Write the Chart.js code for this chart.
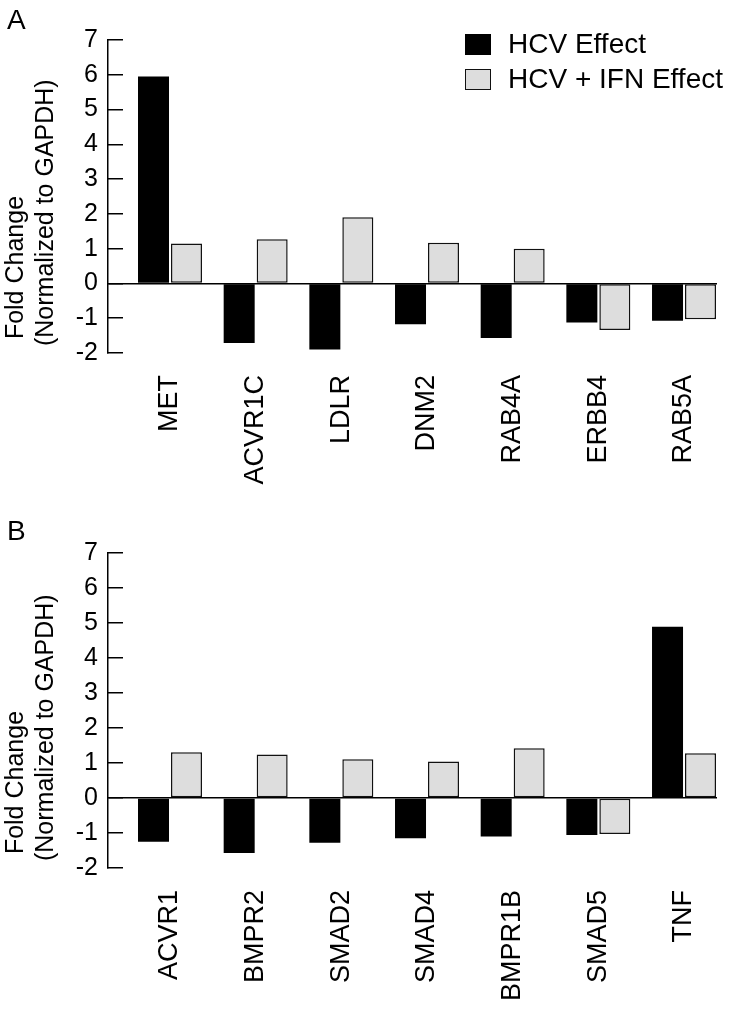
<!DOCTYPE html>
<html>
<head>
<meta charset="utf-8">
<script src="https://cdn.jsdelivr.net/npm/chart.js@4"></script>
<style>
    body { margin: 0; background: #fff; font-family: 'Liberation Sans', Arial, Helvetica, sans-serif; }
    #page { position: relative; width: 730px; height: 1011px; overflow: hidden; }
    .panel { position: absolute; left: 0; width: 730px; }
    .tag { position: absolute; left: 7px; font-size: 28px; line-height: 28px; color: #000; }
    #legend { position: absolute; left: 465px; top: 30px; }
    .legRow { display: flex; align-items: center; height: 28px; margin-bottom: 7px; font-size: 28px; line-height: 28px; color: #000; white-space: nowrap; }
    .legBox { width: 26px; height: 21px; box-sizing: border-box; margin-right: 17px; }
</style>
</head>
<body>
<div id="page">
    <div class="panel" style="top:0;"><canvas id="chartA" width="730" height="490"></canvas></div>
    <div class="panel" style="top:490px;"><canvas id="chartB" width="730" height="521"></canvas></div>
    <div class="tag" style="top:6px;">A</div>
    <div class="tag" style="top:517px;">B</div>
    <div id="legend"></div>
</div>
<script>
// Panel A genes and values
const genesA = ['MET', 'ACVR1C', 'LDLR', 'DNM2', 'RAB4A', 'ERBB4', 'RAB5A'];
const hcvA = [5.95, -1.71, -1.90, -1.17, -1.57, -1.12, -1.07];
const ifnA = [1.15, 1.27, 1.90, 1.17, 1.00, -1.34, -1.03];

// Panel B genes and values
const genesB = ['ACVR1', 'BMPR2', 'SMAD2', 'SMAD4', 'BMPR1B', 'SMAD5', 'TNF'];
const hcvB = [-1.25, -1.57, -1.28, -1.15, -1.10, -1.06, 4.89];
const ifnB = [1.31, 1.24, 1.11, 1.04, 1.42, -1.03, 1.28];

const seriesNames = ['HCV Effect', 'HCV + IFN Effect'];
const seriesColors = ['#000000', '#dddddd'];
const yTicks = [-2, -1, 0, 1, 2, 3, 4, 5, 6, 7];

const FONT = "'Liberation Sans', Arial, Helvetica, sans-serif";
Chart.defaults.font.family = FONT;
Chart.defaults.color = '#000';

function buildLegend() {
    const legend = document.getElementById('legend');
    seriesNames.forEach((name, i) => {
        const row = document.createElement('div');
        row.className = 'legRow';
        const box = document.createElement('div');
        box.className = 'legBox';
        box.style.background = seriesColors[i];
        if (i === 1) box.style.border = '1.5px solid #111';
        const label = document.createElement('span');
        label.textContent = name;
        row.appendChild(box);
        row.appendChild(label);
        legend.appendChild(row);
    });
}

function makePanel(canvasId, genes, hcv, ifn, padTop, xHeight, labelPad) {
    const ctx = document.getElementById(canvasId).getContext('2d');
    const toPoints = arr => arr.map((v, i) => ({ x: i, y: v }));

    return new Chart(ctx, {
        type: 'bar',
        data: {
            datasets: [
                {
                    label: seriesNames[0],
                    data: toPoints(hcv),
                    backgroundColor: seriesColors[0],
                    borderWidth: 0
                },
                {
                    label: seriesNames[1],
                    data: toPoints(ifn),
                    backgroundColor: seriesColors[1],
                    borderColor: '#111',
                    borderWidth: 1.5,
                    borderSkipped: false
                }
            ]
        },
        options: {
            responsive: false,
            animation: false,
            categoryPercentage: 0.77,
            barPercentage: 0.94,
            layout: { padding: { top: padTop, left: 0, right: 13, bottom: 0 } },
            plugins: {
                legend: { display: false },
                tooltip: { enabled: false }
            },
            scales: {
                x: {
                    type: 'linear',
                    offset: false,
                    min: -0.7237,
                    max: 6.385,
                    afterBuildTicks: scale => { scale.ticks = genes.map((g, i) => ({ value: i })); },
                    afterFit: scale => {
                        scale.height = xHeight;
                        // labels sit well inside the plot, no edge room needed
                        scale.paddingLeft = 0;
                        scale.paddingRight = 0;
                    },
                    grid: { display: false, drawTicks: false, offset: false },
                    border: { display: false },
                    ticks: {
                        autoSkip: false,
                        minRotation: 90,
                        maxRotation: 90,
                        padding: labelPad,
                        color: '#000',
                        font: { size: 27 },
                        callback: value => genes[value]
                    }
                },
                y: {
                    min: -2,
                    max: 7,
                    afterBuildTicks: scale => { scale.ticks = yTicks.map(v => ({ value: v })); },
                    afterFit: scale => { scale.width = 108; },
                    grid: {
                        color: c => (c.tick && c.tick.value === 0) ? '#000' : 'rgba(0,0,0,0)',
                        lineWidth: 1.5,
                        drawTicks: true,
                        tickLength: -15,
                        tickColor: '#000',
                        tickWidth: 1.5
                    },
                    border: { display: true, color: '#000', width: 1.5 },
                    ticks: {
                        padding: 25,
                        color: '#000',
                        font: { size: 25 }
                    },
                    title: {
                        display: true,
                        align: 'start',
                        text: ['  Fold Change', ' (Normalized to GAPDH)'],
                        color: '#000',
                        font: { size: 25, lineHeight: 1.2 },
                        padding: { top: 1, bottom: 0 }
                    }
                }
            }
        }
    });
}

buildLegend();
makePanel('chartA', genesA, hcvA, ifnA, 39, 137, 22);
makePanel('chartB', genesB, hcvB, ifnB, 63, 143, 22);
</script>
</body>
</html>
